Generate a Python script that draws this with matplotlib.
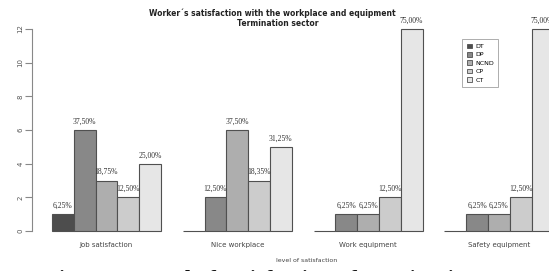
import numpy as np
import matplotlib
matplotlib.use("Agg")
import matplotlib.pyplot as plt
from matplotlib.patches import Patch

# Datos (número de trabajadores por nivel)
grupos = ["Job satisfaction", "Nice workplace", "Work equipment", "Safety equipment"]
niveles = ["DT", "DP", "NCND", "CP", "CT"]
job_satisfaction = [1, 6, 3, 2, 4]
nice_workplace = [0, 2, 6, 3, 5]
work_equipment = [0, 1, 1, 2, 12]
safety_equipment = [0, 1, 1, 2, 12]
etiquetas = [
    ["6,25%", "37,50%", "18,75%", "12,50%", "25,00%"],
    ["", "12,50%", "37,50%", "18,35%", "31,25%"],
    ["", "6,25%", "6,25%", "12,50%", "75,00%"],
    ["", "6,25%", "6,25%", "12,50%", "75,00%"],
]
colores = ["#4D4D4D", "#888888", "#AEAEAE", "#CCCCCC", "#E6E6E6"]

valores = [job_satisfaction, nice_workplace, work_equipment, safety_equipment]

W, H = 549, 271
fig = plt.figure(figsize=(W / 100, H / 100), dpi=100)
ax = fig.add_axes([0, (H - 231) / H, 1, 202 / H])
ax.set_xlim(-1.385, 23.8)
ax.set_ylim(0, 12)

for g, serie in enumerate(valores):
    for b, v in enumerate(serie):
        x = g * 6 + 1 + b
        ax.bar(x, v, width=1, align="edge", color=colores[b], edgecolor="#505050",
               linewidth=0.8, clip_on=False)
        if etiquetas[g][b]:
            ax.text(x + 0.5, v + 0.25, etiquetas[g][b], ha="center", va="bottom",
                    fontsize=5.5, family="Liberation Serif", color="#333333")

for s in ["top", "right", "bottom"]:
    ax.spines[s].set_visible(False)
ax.spines["left"].set_position(("data", 0.08))
ax.spines["left"].set_bounds(0, 12)
ax.spines["left"].set_color("#888888")
ax.spines["left"].set_linewidth(0.8)
ax.set_yticks(np.arange(0, 13, 2))
ax.set_yticklabels([str(t) for t in range(0, 13, 2)], rotation=90, va="center",
                   fontsize=5, color="#555555")
ax.tick_params(axis="y", length=5, width=0.8, color="#888888", pad=1)

ax.set_xticks([g * 6 + 3.5 for g in range(4)])
ax.set_xticklabels(grupos, fontsize=5, color="#444444")
ax.tick_params(axis="x", length=0, pad=8)

fig.text(307 / W, 1 - 261 / H, "level of satisfaction", ha="center", va="center",
         fontsize=4.5, color="#444444")
fig.text(272 / W, 1 - 13 / H, "Worker´s satisfaction with the workplace and equipment",
         ha="center", va="center", fontsize=5.5, fontweight="bold", color="#222222")
fig.text(278 / W, 1 - 24 / H, "Termination sector",
         ha="center", va="center", fontsize=5.5, fontweight="bold", color="#222222")

handles = [Patch(facecolor=c, edgecolor="#505050", linewidth=0.6) for c in colores]
leg = ax.legend(handles, niveles, loc="upper left", bbox_to_anchor=(459 / W, 1 - 7 / 202),
                fontsize=4.5, frameon=True, fancybox=False, handlelength=0.8,
                handleheight=0.8, handletextpad=0.6, borderpad=0.7, labelspacing=0.45,
                edgecolor="#888888")
leg.get_frame().set_linewidth(0.6)

# Pie de figura recortado en la parte inferior
fig.text(45 / W, 1 - 270 / H, "Figure 3. Level of satisfaction of termination sector",
         ha="left", va="top", fontsize=16.5, fontweight="bold", family="Liberation Serif",
         color="#111111")

fig.savefig("out.png", dpi=100)
